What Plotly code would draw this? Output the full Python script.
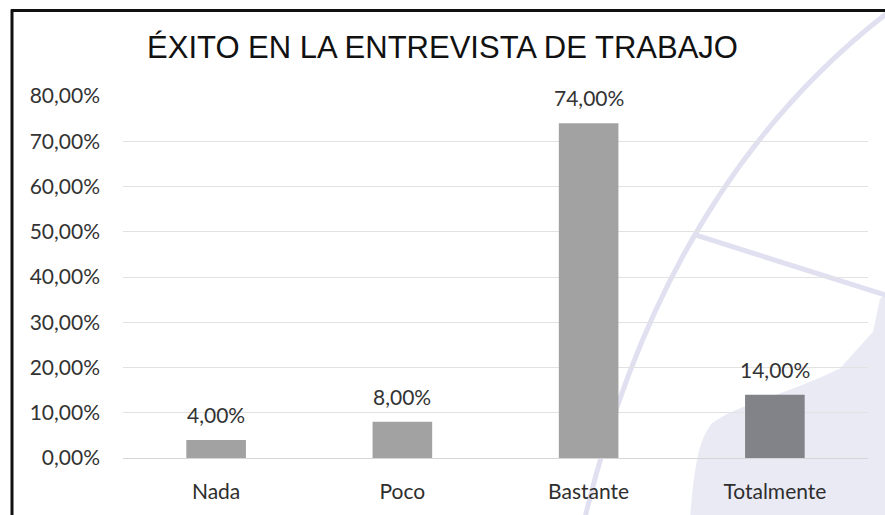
import plotly.graph_objects as go

categories = ["Nada", "Poco", "Bastante", "Totalmente"]
values = [0.04, 0.08, 0.74, 0.14]
bar_colors = ["#a2a2a2", "#a2a2a2", "#a2a2a2", "#828389"]
title_text = "ÉXITO EN LA ENTREVISTA DE TRABAJO"
y_ticks = [0, 0.1, 0.2, 0.3, 0.4, 0.5, 0.6, 0.7, 0.8]

W, H = 885, 515
ml, mr, mt, mb = 123, 17, 96, 55
pw, ph = W - ml - mr, H - mt - mb
FONT = "Lato, Noto Sans, sans-serif"

fig = go.Figure()
fig.add_trace(go.Bar(
    x=categories, y=values, marker=dict(color=bar_colors, line=dict(width=0)),
    width=0.32, hoverinfo="skip"))

for c, v in zip(categories, values):
    fig.add_annotation(x=c, y=v, text=f"{v*100:.2f}%".replace(".", ","),
                       showarrow=False, yanchor="bottom", yshift=11,
                       font=dict(family=FONT, size=21, color="#333333"))

def px_x(p):
    return (p - ml) / pw

def px_y(p):
    return 1 - (p - mt) / ph

def pt(x, y):
    return f"{px_x(x):.4f},{px_y(y):.4f}"

# faint scanned watermark in the background
fig.add_shape(type="path", xref="paper", yref="paper", layer="below",
              path=f"M {pt(690,520)} C {pt(695,460)} {pt(700,440)} {pt(712,425)} "
                   f"C {pt(740,405)} {pt(790,395)} {pt(840,370)} "
                   f"L {pt(873,333)} L {pt(880,300)} L {pt(890,290)} L {pt(890,520)} Z",
              fillcolor="#eaeaf5", line=dict(width=0))
fig.add_shape(type="path", xref="paper", yref="paper", layer="below",
              path=f"M {pt(585,520)} Q {pt(665,185)} {pt(888,12)}",
              line=dict(color="#e0e0f1", width=5))
fig.add_shape(type="line", xref="paper", yref="paper", layer="below",
              x0=px_x(693), y0=px_y(235), x1=px_x(888), y1=px_y(297),
              line=dict(color="#e0e0f1", width=5))

# scanned frame (left and top border)
fig.add_shape(type="line", xref="paper", yref="paper",
              x0=px_x(12), x1=px_x(12), y0=px_y(9), y1=px_y(520),
              line=dict(color="#111111", width=3))
fig.add_shape(type="line", xref="paper", yref="paper",
              x0=px_x(11), x1=px_x(890), y0=px_y(10), y1=px_y(10),
              line=dict(color="#111111", width=3))

fig.update_layout(
    width=W, height=H,
    margin=dict(l=ml, r=mr, t=mt, b=mb),
    paper_bgcolor="white", plot_bgcolor="rgba(0,0,0,0)",
    separators=",.",
    showlegend=False,
    title=dict(text=title_text, x=0.5, xanchor="center", y=1 - 47 / H, yanchor="middle",
               font=dict(family="Liberation Sans Narrow, Liberation Sans, Arial, sans-serif",
                         size=31, color="#111111")),
    xaxis=dict(showline=False, showgrid=False, ticks="", ticklabelstandoff=19,
               tickfont=dict(family=FONT, size=21, color="#2e2e2e")),
    yaxis=dict(range=[0, 0.8], tickvals=y_ticks, tickformat=".2%",
               showgrid=True, gridcolor="#e2e2e2", gridwidth=1,
               zeroline=True, zerolinecolor="#d6d6d6", zerolinewidth=1,
               showline=False, ticks="", ticklabelstandoff=22,
               tickfont=dict(family=FONT, size=21, color="#333333")),
)

fig.write_html("out.html", config={"displayModeBar": False},
               post_script="document.body.style.margin='0';document.body.style.overflow='hidden';")
